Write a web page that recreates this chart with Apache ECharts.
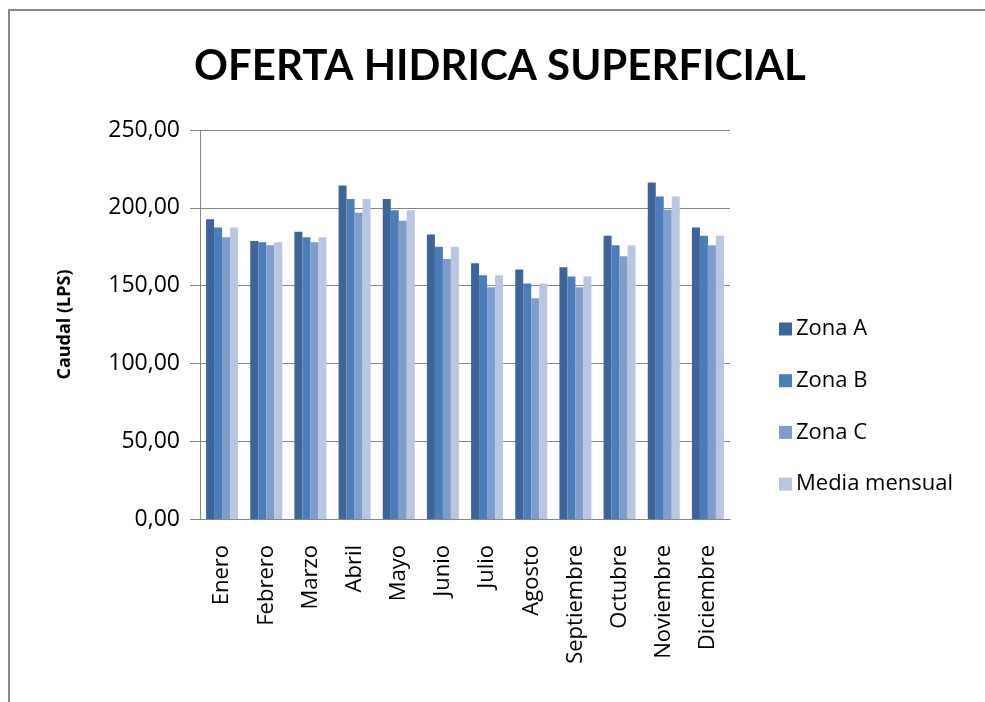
<!DOCTYPE html>
<html>
<head>
<meta charset="utf-8">
<script src="https://cdn.jsdelivr.net/npm/echarts@6/dist/echarts.min.js"></script>
<style>
  html, body { margin: 0; padding: 0; background: #fff; }
  #main { width: 985px; height: 702px; }
</style>
</head>
<body>
<div id="main"></div>
<script>
var meses = ['Enero', 'Febrero', 'Marzo', 'Abril', 'Mayo', 'Junio', 'Julio', 'Agosto', 'Septiembre', 'Octubre', 'Noviembre', 'Diciembre'];
var zonaA = [192.6, 178.7, 184.6, 214.4, 205.6, 182.9, 164.4, 160.3, 161.8, 182.1, 216.3, 187.4];
var zonaB = [187.4, 177.8, 181.0, 205.6, 198.5, 175.0, 156.7, 151.3, 155.8, 175.9, 207.3, 182.1];
var zonaC = [181.0, 175.9, 177.8, 196.8, 191.7, 167.1, 149.0, 141.9, 149.0, 168.8, 198.7, 175.9];
var mediaMensual = [187.4, 177.8, 181.0, 205.6, 198.5, 175.0, 156.7, 151.3, 155.8, 175.9, 207.3, 182.1];

var fuente = '"Open Sans", sans-serif';
var myChart = echarts.init(document.getElementById('main'));

function serie(nombre, datos, color) {
    return {
        name: nombre,
        type: 'bar',
        data: datos,
        barWidth: 8,
        barGap: '0%',
        itemStyle: { color: color },
        emphasis: { disabled: true }
    };
}

var option = {
    animation: false,
    backgroundColor: '#fff',
    title: {
        text: 'OFERTA HIDRICA SUPERFICIAL',
        left: 495,
        textAlign: 'center',
        top: 40,
        textStyle: { fontFamily: 'Lato, sans-serif', fontSize: 42, fontWeight: 'bold', color: '#000' }
    },
    // marco gris del gráfico
    graphic: [{
        type: 'rect',
        shape: { x: 9, y: 10, width: 1000, height: 720 },
        style: { fill: 'none', stroke: '#8a8a8a', lineWidth: 2 },
        silent: true
    }],
    legend: {
        orient: 'vertical',
        left: 774,
        top: 313,
        itemWidth: 13,
        itemHeight: 13,
        itemGap: 29.7,
        icon: 'rect',
        textStyle: { fontFamily: fuente, fontSize: 22, color: '#000', padding: [0, 0, 0, -1] },
        data: ['Zona A', 'Zona B', 'Zona C', 'Media mensual']
    },
    grid: { left: 200, right: 255, top: 130, bottom: 183 },
    xAxis: {
        type: 'category',
        data: meses,
        axisLine: { lineStyle: { color: '#868686', width: 1 } },
        axisTick: { show: false },
        axisLabel: { rotate: 90, margin: 26, fontFamily: fuente, fontSize: 22, color: '#000', interval: 0 }
    },
    yAxis: {
        type: 'value',
        min: 0,
        max: 250,
        interval: 50,
        name: 'Caudal (LPS)',
        nameLocation: 'middle',
        nameRotate: 90,
        nameGap: 126,
        nameTextStyle: { fontFamily: fuente, fontSize: 18, fontWeight: 'bold', color: '#000' },
        axisLine: { show: true, lineStyle: { color: '#868686', width: 1 } },
        axisTick: { show: true, inside: false, length: 10, lineStyle: { color: '#868686' } },
        axisLabel: {
            margin: 20,
            fontFamily: fuente,
            fontSize: 23,
            color: '#000',
            formatter: function (v) { return v.toFixed(2).replace('.', ','); }
        },
        splitLine: { lineStyle: { color: '#868686', width: 1 } }
    },
    series: [
        serie('Zona A', zonaA, '#3d6599'),
        serie('Zona B', zonaB, '#4a7dba'),
        serie('Zona C', zonaC, '#7e9dcb'),
        serie('Media mensual', mediaMensual, '#b9c6e1')
    ]
};

myChart.setOption(option);
</script>
</body>
</html>
